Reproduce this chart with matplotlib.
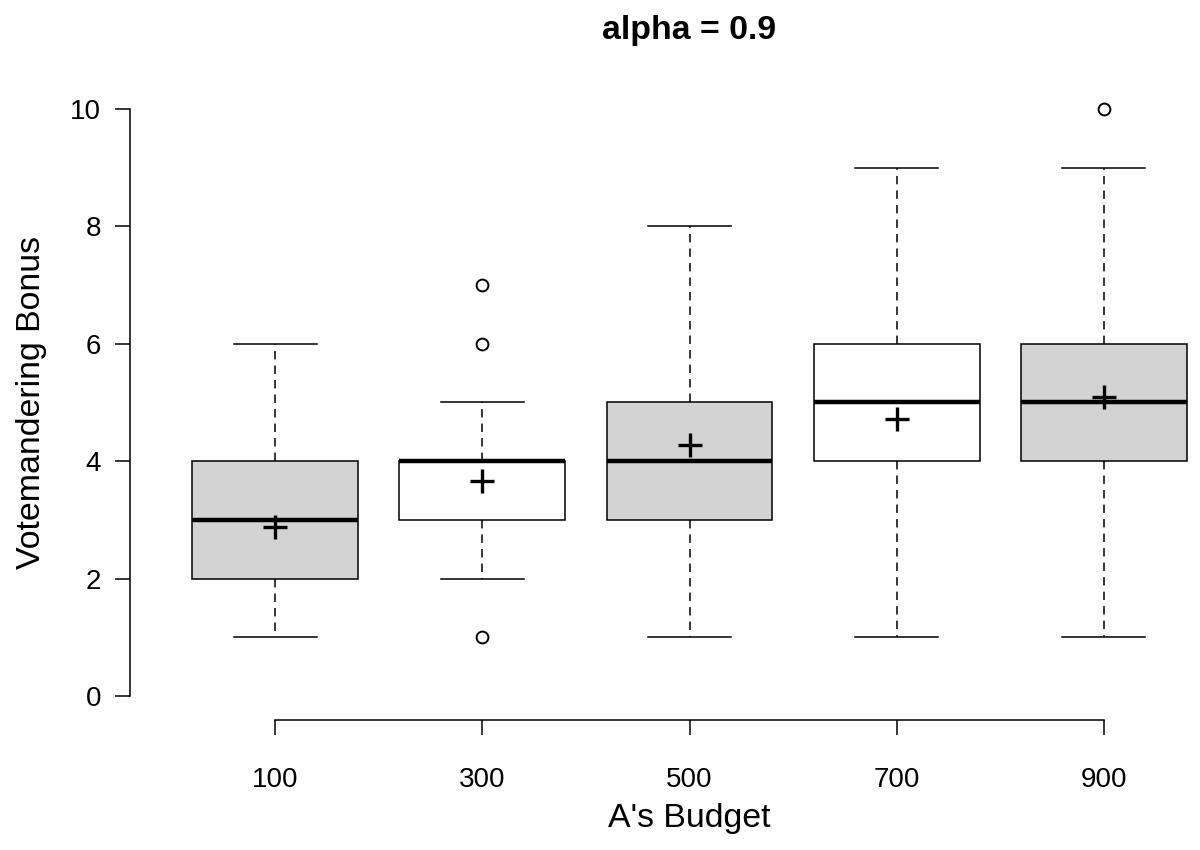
import matplotlib
matplotlib.use("Agg")
import matplotlib.pyplot as plt

# ---- data ----
categories = ["100", "300", "500", "700", "900"]
q1 = [2, 3, 3, 4, 4]
medians = [3, 4, 4, 5, 5]
q3 = [4, 4, 5, 6, 6]
whisk_lo = [1, 2, 1, 1, 1]
whisk_hi = [6, 5, 8, 9, 9]
outliers = [[], [1, 6, 7], [], [], [10]]
means = [2.88, 3.67, 4.28, 4.72, 5.10]
fills = ["#D3D3D3", "white", "#D3D3D3", "white", "#D3D3D3"]
yticks = [0, 2, 4, 6, 8, 10]

plt.rcParams['font.family'] = ['Liberation Sans', 'DejaVu Sans']

W, H = 1200, 850
fig = plt.figure(figsize=(W / 100, H / 100), dpi=100)
left, right, top, bottom = 130, 1249, 85.5, 719.5
ax = fig.add_axes([left / W, 1 - bottom / H, (right - left) / W, (bottom - top) / H])

positions = list(range(1, len(categories) + 1))
stats = []
for i in range(len(categories)):
    stats.append(dict(med=medians[i], q1=q1[i], q3=q3[i],
                      whislo=whisk_lo[i], whishi=whisk_hi[i],
                      fliers=outliers[i], label=categories[i]))

lw = 1.1
bp = ax.bxp(stats, positions=positions, widths=0.8, capwidths=0.4,
            patch_artist=True, showfliers=True,
            boxprops=dict(linewidth=lw, edgecolor='black'),
            medianprops=dict(linewidth=3.2, color='black', solid_capstyle='butt'),
            whiskerprops=dict(linewidth=lw, color='black', linestyle=(0, (5.5, 4))),
            capprops=dict(linewidth=lw, color='black'),
            flierprops=dict(marker='o', markersize=8.5, markerfacecolor='none',
                            markeredgecolor='black', markeredgewidth=1.4))
for patch, c in zip(bp['boxes'], fills):
    patch.set_facecolor(c)

ax.plot(positions, means, linestyle='none', marker='+', markersize=17,
        markeredgewidth=2.4, color='black', zorder=5)

ax.set_xlim(0.3, 5.7)
ax.set_ylim(-0.4, 10.4)

for s in ['top', 'right']:
    ax.spines[s].set_visible(False)
ax.spines['left'].set_bounds(0, 10)
ax.spines['bottom'].set_bounds(1, 5)
ax.spines['left'].set_linewidth(lw)
ax.spines['bottom'].set_linewidth(lw)

ax.set_yticks(yticks)
ax.set_yticklabels([str(v) for v in yticks])
ax.set_xticks(positions)
ax.set_xticklabels(categories)
ax.tick_params(axis='both', direction='out', length=10.8, width=lw, labelsize=20)
ax.tick_params(axis='y', pad=10)
ax.tick_params(axis='x', pad=23.5)

fs_lab = 24.4
fig.text((left + right) / 2 / W, 1 - 30 / H, "alpha = 0.9", ha='center', va='center',
         fontsize=fs_lab, fontweight='bold')
fig.text((left + right) / 2 / W, 1 - 818 / H, "A's Budget", ha='center', va='center',
         fontsize=fs_lab)
fig.text(32 / W, 1 - 402.5 / H, "Votemandering Bonus", ha='center', va='center',
         rotation=90, fontsize=fs_lab)

fig.savefig("out.png", dpi=100)
